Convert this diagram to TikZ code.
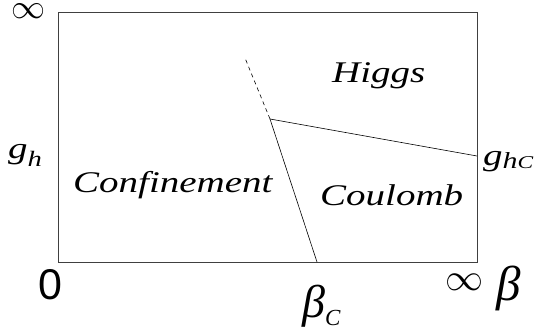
\documentclass[tikz,border=0pt]{standalone}
\usepackage{fontspec}
\setmainfont{Liberation Serif}
\setsansfont{Liberation Sans}
\usepackage{tikz}
\usetikzlibrary{positioning}
\tikzset{>=latex}
\tikzset{phase/.style={inner sep=0pt, anchor=base west,
    font=\fontsize{30}{36}\selectfont\itshape}}
\tikzset{axlabel/.style={inner sep=0pt, anchor=base west}}
\tikzset{boundary/.style={line width=0.6pt, black}}
\newcommand{\widetext}[1]{\scalebox{1.3}[1]{#1}}
\newcommand{\subsize}[1]{\fontsize{#1}{#1}\selectfont}

\begin{document}
\begin{tikzpicture}[x=1pt, y=-1pt]
  \useasboundingbox (0,0) rectangle (538,334);
  \draw[line width=0.9pt, black!75] (58,12) rectangle (477,262);
  % phase boundaries
  \coordinate (tri) at (270,119);
  \coordinate (bc) at (317,262);
  \coordinate (ghc) at (477,156);
  \coordinate (dashend) at (245,58);
  \draw[boundary] (tri) -- (bc);
  \draw[boundary] (tri) -- (ghc);
  \draw[boundary, dash pattern=on 4pt off 3.5pt] (tri) -- (dashend);
  % phases
  \node[phase] (higgs) at (332,83) {\widetext{Higgs}};
  \node[phase] (conf) at (73,192) {\widetext{Confinement}};
  \node[phase] (coul) at (320,205) {\widetext{Coulomb}};
  % axes
  \node[inner sep=0pt] (infy) at (28,11.5) {\scalebox{3.4}{$\infty$}};
  \node[axlabel] (gh) at (8,158) {\widetext{\subsize{30}\itshape g\raisebox{-9pt}{\subsize{22}h}}};
  \node[axlabel] (ghcl) at (483,165) {\widetext{\subsize{30}\itshape g\raisebox{-3pt}{\subsize{23}h\subsize{18}C}}};
  \node[axlabel, font=\sffamily\fontsize{43}{48}\selectfont] (zero) at (38,299) {0};
  \node[inner sep=0pt] (infx) at (464,282.5) {\scalebox{3.8}{$\infty$}};
  \node[axlabel, font=\fontsize{49}{52}\selectfont\itshape] (beta) at (496,300) {β};
  \node[axlabel] (betac) at (302,317) {\subsize{46}\itshape β\raisebox{-8pt}{\subsize{23}C}};
\end{tikzpicture}
\end{document}
